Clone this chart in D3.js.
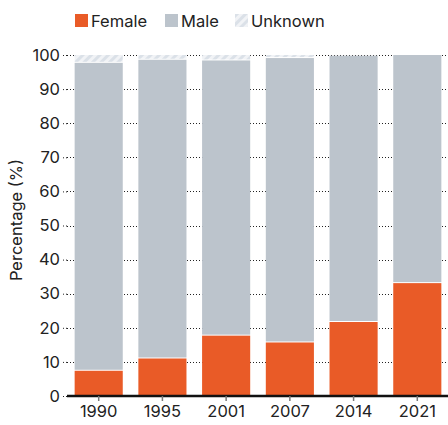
<!DOCTYPE html>
<html>
<head>
<meta charset="utf-8">
<script src="https://cdn.jsdelivr.net/npm/d3@7"></script>
<style>
    body { margin: 0; background: #fff; }
    text { font-family: "Inter", sans-serif; fill: #222; }
</style>
</head>
<body>
<script>
// Stacked bars: share of Female / Male / Unknown per survey year

var years = ["1990", "1995", "2001", "2007", "2014", "2021"];
var female = [7.4, 11.0, 17.7, 15.7, 21.7, 33.1];
var male = [90.3, 87.6, 80.7, 83.4, 78.1, 66.9];
var unknown = [2.3, 1.4, 1.6, 0.9, 0.2, 0.0];
var yTicks = [0, 10, 20, 30, 40, 50, 60, 70, 80, 90, 100];
var seriesNames = ["Female", "Male", "Unknown"];

var width = 448, height = 425;
var margin = {top: 55, bottom: 29, left: 67, right: 0};
var fontSize = "16.5px";

var svg = d3.select("body").append("svg")
    .attr("width", width)
    .attr("height", height);

// hatch for the unknown slice
var defs = svg.append("defs");
var pat = defs.append("pattern")
    .attr("id", "hatch")
    .attr("patternUnits", "userSpaceOnUse")
    .attr("width", 6).attr("height", 6)
    .attr("patternTransform", "rotate(45)");
pat.append("rect").attr("width", 6).attr("height", 6).attr("fill", "#f1f3f6");
pat.append("rect").attr("width", 3).attr("height", 6).attr("fill", "#dbe1e8");

var colors = {Female: "#e95b27", Male: "#bcc4cc", Unknown: "url(#hatch)"};

var rows = years.map(function(y, i) {
    return {year: y, Female: female[i], Male: male[i], Unknown: unknown[i]};
});
var stacked = d3.stack().keys(seriesNames)(rows);

var x = d3.scaleBand()
    .domain(years)
    .range([margin.left, 449])
    .paddingInner(0.245)
    .paddingOuter(0.12);
var y = d3.scaleLinear()
    .domain([0, 100])
    .range([height - margin.bottom, margin.top]);

// dotted gridlines behind bars
svg.append("g")
    .selectAll("line")
    .data(yTicks.filter(function(d) { return d > 0; }))
    .enter().append("line")
    .attr("x1", margin.left).attr("x2", width)
    .attr("y1", function(d) { return Math.round(y(d)) + 0.5; })
    .attr("y2", function(d) { return Math.round(y(d)) + 0.5; })
    .attr("stroke", "#222")
    .attr("stroke-width", 1)
    .attr("stroke-dasharray", "1,2");

// bars
svg.append("g")
    .selectAll("g")
    .data(stacked)
    .enter().append("g")
    .attr("fill", function(d) { return colors[d.key]; })
    .selectAll("rect")
    .data(function(d) { return d; })
    .enter().append("rect")
    .attr("x", function(d) { return x(d.data.year); })
    .attr("width", x.bandwidth())
    .attr("y", function(d) { return y(d[1]); })
    .attr("height", function(d) {
        var h = y(d[0]) - y(d[1]) - (d[0] > 0 ? 1 : 0);
        return Math.max(0, h);
    });

// y axis: labels only plus little tick stub
var yAxis = svg.append("g")
    .attr("transform", "translate(" + margin.left + ",0)")
    .call(d3.axisLeft(y).tickValues(yTicks).tickSize(4).tickPadding(3));
yAxis.select(".domain").remove();
yAxis.selectAll(".tick line").attr("stroke", "#222")
    .attr("stroke-dasharray", "1,2");
yAxis.selectAll("text")
    .style("font-size", fontSize)
    .style("font-family", "Inter, sans-serif")
    .attr("fill", "#222");

// x axis
var xAxis = svg.append("g")
    .attr("transform", "translate(0," + (height - margin.bottom) + ")")
    .call(d3.axisBottom(x).tickSize(5).tickPadding(4));
xAxis.select(".domain")
    .attr("d", "M" + margin.left + ",0H" + width)
    .attr("stroke", "#111")
    .attr("stroke-width", 2.5);
xAxis.selectAll(".tick line").attr("stroke", "#777").attr("stroke-width", 1.5);
xAxis.selectAll("text")
    .style("font-size", fontSize)
    .style("font-family", "Inter, sans-serif")
    .attr("fill", "#222");

// y title
svg.append("text")
    .attr("transform", "translate(22," + 220 + ") rotate(-90)")
    .style("text-anchor", "middle")
    .style("font-size", "16.5px")
    .text("Percentage (%)");

// legend
var legendX = [75, 165, 235];
var legend = svg.append("g")
    .selectAll("g")
    .data(seriesNames)
    .enter().append("g")
    .attr("transform", function(d, i) {
        return "translate(" + legendX[i] + ",14)";
    });
legend.append("rect")
    .attr("width", 13).attr("height", 13)
    .attr("fill", function(d) { return colors[d]; });
legend.append("text")
    .attr("x", 16).attr("y", 12.5)
    .style("font-size", fontSize)
    .text(function(d) { return d; });
</script>
</body>
</html>
